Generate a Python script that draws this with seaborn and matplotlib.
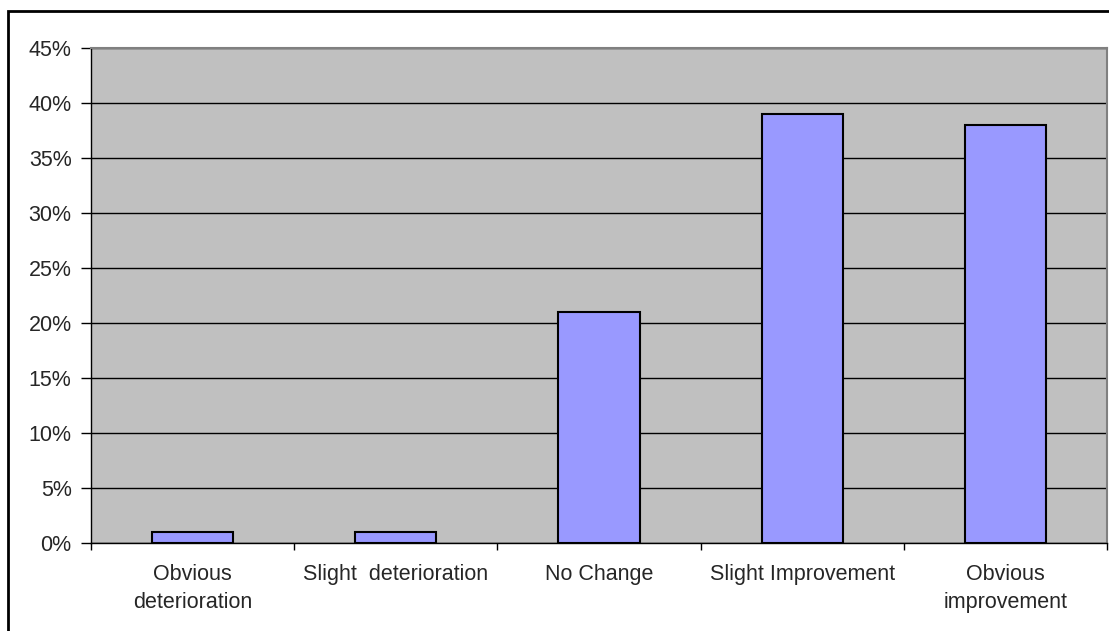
import matplotlib
matplotlib.use("Agg")
import matplotlib.pyplot as plt
import seaborn as sns
from matplotlib.patches import Rectangle
from matplotlib.ticker import PercentFormatter, MultipleLocator

# --- data ---
categories = ["Obvious\ndeterioration", "Slight  deterioration", "No Change",
              "Slight Improvement", "Obvious\nimprovement"]
shares = [0.01, 0.01, 0.21, 0.39, 0.38]

sns.set_theme(style="white")
plt.rcParams['font.family'] = ['Liberation Sans', 'DejaVu Sans']

fig = plt.figure(figsize=(11.09, 6.31), dpi=100)
ax = fig.add_axes([91 / 1109, 88 / 631, 1016 / 1109, 495 / 631])
ax.set_facecolor("#C0C0C0")

sns.barplot(x=categories, y=shares, ax=ax, color="#9999FF", saturation=1,
            edgecolor="black", linewidth=1.5, width=0.4)

ax.set_ylim(0, 0.45)
ax.set_xlim(-0.5, len(categories) - 0.5)
ax.yaxis.set_major_locator(MultipleLocator(0.05))
ax.yaxis.set_major_formatter(PercentFormatter(1.0, decimals=0))
ax.grid(axis="y", color="black", linewidth=1)
ax.set_axisbelow(True)

# category boundary ticks on x axis
ax.set_xticks([i - 0.5 for i in range(len(categories) + 1)], minor=True)
ax.tick_params(axis="x", which="minor", bottom=True, length=5, width=1, color="black")
ax.tick_params(axis="x", which="major", bottom=False, labelsize=15.5, pad=9)
ax.tick_params(axis="y", left=True, length=7, width=1, color="black",
               labelsize=15.5, pad=7)
for lbl in ax.get_xticklabels():
    lbl.set_linespacing(1.45)
    lbl.set_verticalalignment("top")

for side in ["left", "bottom"]:
    ax.spines[side].set_color("black")
    ax.spines[side].set_linewidth(1)
for side in ["top", "right"]:
    ax.spines[side].set_color("#808080")
    ax.spines[side].set_linewidth(1.5)

ax.set_xlabel("")
ax.set_ylabel("")

# outer chart border
fig.patches.append(Rectangle((8 / 1109, -0.05), 1.2, 1 - 11 / 631 + 0.05,
                             transform=fig.transFigure, fill=False,
                             edgecolor="black", linewidth=2))

fig.savefig("out.png", dpi=100)
